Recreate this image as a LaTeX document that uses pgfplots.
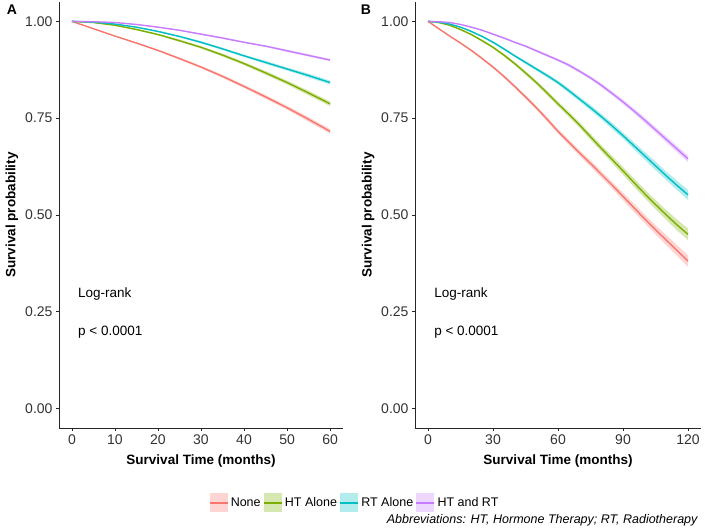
\documentclass[border=0pt]{standalone}
\usepackage{pgfplots}
\pgfplotsset{compat=1.18}
\usepackage{pgfplotstable}
\usepgfplotslibrary{fillbetween}
\usepackage{fontspec}
\setmainfont{Liberation Sans}

\definecolor{cNone}{HTML}{F8766D}
\definecolor{cHT}{HTML}{7CAE00}
\definecolor{cRT}{HTML}{00BFC4}
\definecolor{cBoth}{HTML}{C77CFF}

% survival estimate s with lower / upper confidence limits
\pgfplotstableread{
t   s     lo    hi
0   1.000 1.000 1.000
5   0.981 0.980 0.982
10  0.962 0.961 0.963
15  0.944 0.942 0.946
20  0.925 0.923 0.927
25  0.904 0.901 0.907
30  0.882 0.879 0.885
35  0.858 0.854 0.862
40  0.832 0.828 0.836
45  0.805 0.800 0.810
50  0.777 0.772 0.782
55  0.747 0.741 0.753
60  0.716 0.710 0.722
65  0.688 0.681 0.695
70  0.660 0.653 0.667
75  0.633 0.625 0.641
80  0.605 0.597 0.613
85  0.577 0.568 0.586
90  0.548 0.538 0.558
95  0.519 0.508 0.530
100 0.490 0.479 0.501
105 0.462 0.450 0.474
110 0.435 0.422 0.448
115 0.408 0.394 0.422
120 0.381 0.366 0.396
}\tNone

\pgfplotstableread{
t   s     lo    hi
0   1.000 1.000 1.000
5   0.997 0.996 0.998
10  0.990 0.989 0.991
15  0.979 0.977 0.981
20  0.966 0.964 0.968
25  0.950 0.947 0.953
30  0.933 0.930 0.936
35  0.913 0.909 0.917
40  0.891 0.887 0.895
45  0.867 0.862 0.872
50  0.842 0.837 0.847
55  0.815 0.809 0.821
60  0.787 0.781 0.793
65  0.760 0.753 0.767
70  0.732 0.725 0.739
75  0.702 0.694 0.710
80  0.672 0.664 0.680
85  0.643 0.634 0.652
90  0.614 0.604 0.624
95  0.584 0.573 0.595
100 0.555 0.544 0.566
105 0.527 0.515 0.539
110 0.500 0.487 0.513
115 0.474 0.460 0.488
120 0.450 0.435 0.465
}\tHT

\pgfplotstableread{
t   s     lo    hi
0   1.000 1.000 1.000
5   0.998 0.997 0.999
10  0.993 0.992 0.994
15  0.985 0.984 0.986
20  0.974 0.972 0.976
25  0.961 0.959 0.963
30  0.946 0.943 0.949
35  0.929 0.926 0.932
40  0.911 0.908 0.914
45  0.894 0.890 0.898
50  0.877 0.873 0.881
55  0.860 0.855 0.865
60  0.842 0.837 0.847
65  0.821 0.815 0.827
70  0.799 0.793 0.805
75  0.777 0.770 0.784
80  0.754 0.747 0.761
85  0.730 0.722 0.738
90  0.705 0.697 0.713
95  0.679 0.670 0.688
100 0.653 0.643 0.663
105 0.627 0.616 0.638
110 0.601 0.590 0.612
115 0.576 0.564 0.588
120 0.552 0.539 0.565
}\tRT

\pgfplotstableread{
t   s     lo    hi
0   1.000 1.000 1.000
5   0.999 0.999 0.999
10  0.997 0.996 0.998
15  0.992 0.991 0.993
20  0.985 0.984 0.986
25  0.977 0.976 0.978
30  0.967 0.965 0.969
35  0.957 0.955 0.959
40  0.946 0.944 0.948
45  0.936 0.934 0.938
50  0.924 0.921 0.927
55  0.912 0.909 0.915
60  0.900 0.897 0.903
65  0.887 0.883 0.891
70  0.871 0.867 0.875
75  0.854 0.850 0.858
80  0.835 0.830 0.840
85  0.814 0.809 0.819
90  0.792 0.786 0.798
95  0.769 0.763 0.775
100 0.745 0.738 0.752
105 0.720 0.713 0.727
110 0.695 0.687 0.703
115 0.670 0.662 0.678
120 0.645 0.636 0.654
}\tBoth

\newcommand{\band}[3]{%
  \addplot[draw=none, forget plot, name path=lo#2, restrict x to domain=#3] table[x=t,y=lo]{#1};
  \addplot[draw=none, forget plot, name path=hi#2, restrict x to domain=#3] table[x=t,y=hi]{#1};
  \addplot[fill=#2, fill opacity=0.3, draw=none, forget plot] fill between[of=lo#2 and hi#2];
}
\newcommand{\curve}[3]{%
  \addplot[km, color=#2, restrict x to domain=#3] table[x=t,y=s]{#1};
}

\tikzset{note/.style={anchor=west, inner sep=0pt, font=\fontsize{13.5}{16}\selectfont}}

\pgfplotsset{
  km/.style={line width=1.4pt, no marks},
  kmaxis/.style={
    scale only axis, height=426pt,
    ymin=-0.05, ymax=1.05,
    axis x line*=bottom, axis y line*=left,
    axis line style={line width=0.7pt, black!85},
    tick style={line width=0.7pt, black!85},
    tick align=outside, major tick length=3pt,
    ytick={0,0.25,0.5,0.75,1},
    yticklabels={0.00,0.25,0.50,0.75,1.00},
    /pgf/number format/assume math mode=true,
    ticklabel style={font=\fontsize{14}{16}\selectfont, text=black!80},
    label style={font=\bfseries\fontsize{13.5}{16}\selectfont},
    xlabel={Survival Time (months)},
    ylabel={Survival probability},
    xlabel style={at={(axis description cs:0.5,-0.0775)}, anchor=center},
  },
}

\begin{document}
\begin{tikzpicture}

% panel A
\begin{axis}[kmaxis, at={(59pt,100pt)}, anchor=south west, width=284pt,
  xmin=-3, xmax=63, xtick={0,10,...,60},
  ylabel style={at={(axis description cs:-0.1655,0.5)}, anchor=center}]
  \band{\tNone}{cNone}{0:60}
  \band{\tHT}{cHT}{0:60}
  \band{\tRT}{cRT}{0:60}
  \band{\tBoth}{cBoth}{0:60}
  \curve{\tNone}{cNone}{0:60}
  \curve{\tHT}{cHT}{0:60}
  \curve{\tRT}{cRT}{0:60}
  \curve{\tBoth}{cBoth}{0:60}
  \node[note] at (axis cs:1.4,0.296) {Log-rank};
  \node[note] at (axis cs:1.4,0.198) {p < 0.0001};
\end{axis}

% panel B
\begin{axis}[kmaxis, at={(415pt,100pt)}, anchor=south west, width=286pt,
  xmin=-6, xmax=126, xtick={0,30,...,120},
  ylabel style={at={(axis description cs:-0.164,0.5)}, anchor=center},
  legend columns=4,
  legend style={at={(axis description cs:-0.21,-0.176)}, anchor=center,
    draw=none, fill=none, inner sep=0pt, column sep=0pt,
    font=\fontsize{12.5}{14}\selectfont, nodes={inner sep=2.5pt}},
  legend image code/.code={%
    \fill[#1, draw=none, fill opacity=0.3] (0pt,-9.5pt) rectangle (18pt,9.5pt);
    \draw[#1, line width=1.3pt] (0pt,0pt) -- (18pt,0pt);}]
  \band{\tNone}{cNone}{0:120}
  \band{\tHT}{cHT}{0:120}
  \band{\tRT}{cRT}{0:120}
  \band{\tBoth}{cBoth}{0:120}
  \curve{\tNone}{cNone}{0:120}
  \curve{\tHT}{cHT}{0:120}
  \curve{\tRT}{cRT}{0:120}
  \curve{\tBoth}{cBoth}{0:120}
  \legend{None, HT Alone, RT Alone, HT and RT}
  \node[note] at (axis cs:2.8,0.296) {Log-rank};
  \node[note] at (axis cs:2.8,0.198) {p < 0.0001};
\end{axis}

\node[font=\bfseries\fontsize{14}{16}\selectfont] at (12pt,518pt) {A};
\node[font=\bfseries\fontsize{14}{16}\selectfont] at (366pt,518pt) {B};
\node[anchor=east, font=\itshape\fontsize{12.5}{15}\selectfont] at (701pt,8pt)
  {Abbreviations: HT, Hormone Therapy; RT, Radiotherapy};

\pgfresetboundingbox
\useasboundingbox (0,0) rectangle (709pt,528pt);
\end{tikzpicture}
\end{document}
